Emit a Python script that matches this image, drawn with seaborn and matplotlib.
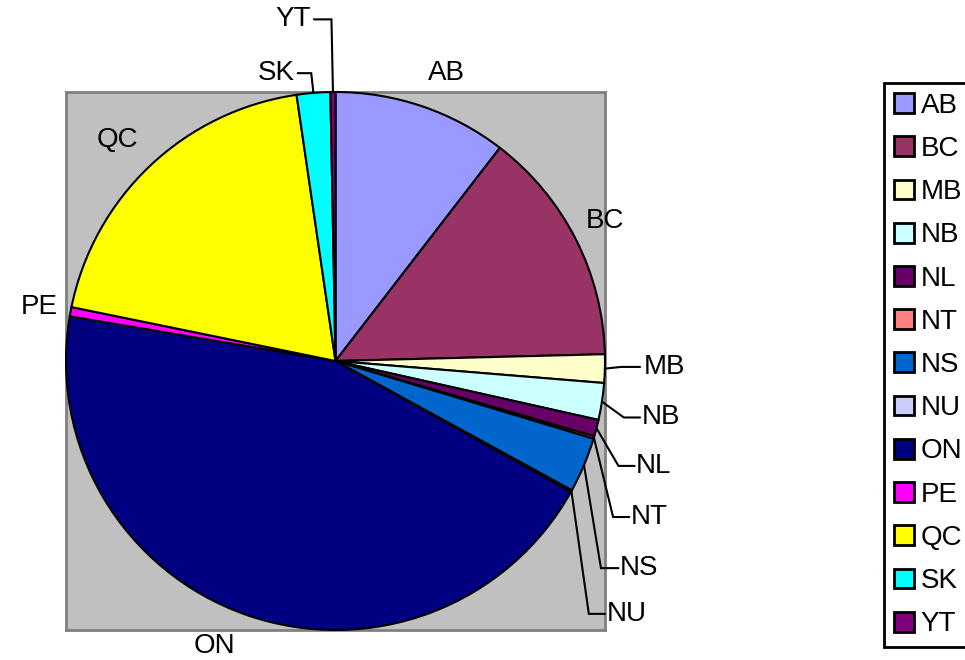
import numpy as np
import matplotlib
matplotlib.use("Agg")
import matplotlib.pyplot as plt
import seaborn as sns
from matplotlib.patches import Patch

sns.set_style("white")
plt.rcParams["font.family"] = ["Liberation Sans", "DejaVu Sans"]
plt.rcParams["text.color"] = "black"

# ── data ────────────────────────────────────────────────────────────────
provinces = ["AB", "BC", "MB", "NB", "NL", "NT", "NS", "NU",
             "ON", "PE", "QC", "SK", "YT"]
shares = [10.4, 14.1, 1.7, 2.2, 1.0, 0.15, 3.3, 0.1,
          44.4, 0.55, 19.4, 2.0, 0.3]
colors = ["#9999FF", "#993366", "#FFFFCC", "#CCFFFF", "#660066", "#FF8080",
          "#0066CC", "#CCCCFF", "#000080", "#FF00FF", "#FFFF00", "#00FFFF",
          "#800080"]

# label placement (data units, pie radius = 1)
plain_labels = {"AB": (0.41, 1.07), "BC": (1.00, 0.52), "ON": (-0.45, -1.06),
                "PE": (-1.10, 0.20), "QC": (-0.81, 0.82)}
# elbow point, end x of horizontal segment, text x, alignment
leader_labels = {
    "MB": ((1.06, -0.022), 1.13, 1.145, "left"),
    "NB": ((1.07, -0.21), 1.13, 1.135, "left"),
    "NL": ((1.05, -0.39), 1.11, 1.115, "left"),
    "NT": ((1.03, -0.58), 1.09, 1.095, "left"),
    "NS": ((0.985, -0.77), 1.05, 1.055, "left"),
    "NU": ((0.94, -0.94), 1.00, 1.005, "left"),
    "SK": ((-0.09, 1.07), -0.14, -0.15, "right"),
    "YT": ((-0.015, 1.27), -0.08, -0.09, "right"),
}

fig = plt.figure(figsize=(9.65, 6.6), dpi=100)
ax = fig.add_axes([66 / 965, 30 / 660, 539 / 965, 538 / 660])

wedges, _ = ax.pie(shares, colors=colors, startangle=90, counterclock=False,
                   radius=1, frame=True,
                   wedgeprops=dict(edgecolor="black", linewidth=1.5,
                                   zorder=3, clip_on=False))
ax.set_frame_on(True)
ax.set_facecolor("#C0C0C0")
ax.set_xlim(-1, 1); ax.set_ylim(-1, 1)
ax.set_aspect("auto")
ax.set_xticks([]); ax.set_yticks([])
for s in ax.spines.values():
    s.set_visible(True); s.set_color("#808080"); s.set_linewidth(2)

fs = 20
for name, (x, y) in plain_labels.items():
    ax.text(x, y, name, ha="center", va="center", fontsize=fs, clip_on=False)

# leader lines for the thin slices
for w, name in zip(wedges, provinces):
    if name not in leader_labels:
        continue
    (ex, ey), endx, tx, ha = leader_labels[name]
    mid = np.deg2rad((w.theta1 + w.theta2) / 2)
    sx, sy = np.cos(mid), np.sin(mid)
    ax.plot([sx, ex, endx], [sy, ey, ey], color="black", lw=1.5,
            clip_on=False, solid_joinstyle="miter", zorder=4)
    ax.text(tx, ey, name, ha=ha, va="center", fontsize=fs, clip_on=False)

handles = [Patch(facecolor=c, edgecolor="black", linewidth=2) for c in colors]
leg = fig.legend(handles, provinces, loc="upper left",
                 bbox_to_anchor=(884 / 965, 1 - 83 / 660), fontsize=fs,
                 frameon=True, fancybox=False, framealpha=1,
                 handlelength=0.72, handleheight=0.72, handletextpad=0.25,
                 labelspacing=0.62, borderpad=0.35, borderaxespad=0)
leg.get_frame().set_edgecolor("black")
leg.get_frame().set_linewidth(2)

fig.savefig("out.png", dpi=100)
